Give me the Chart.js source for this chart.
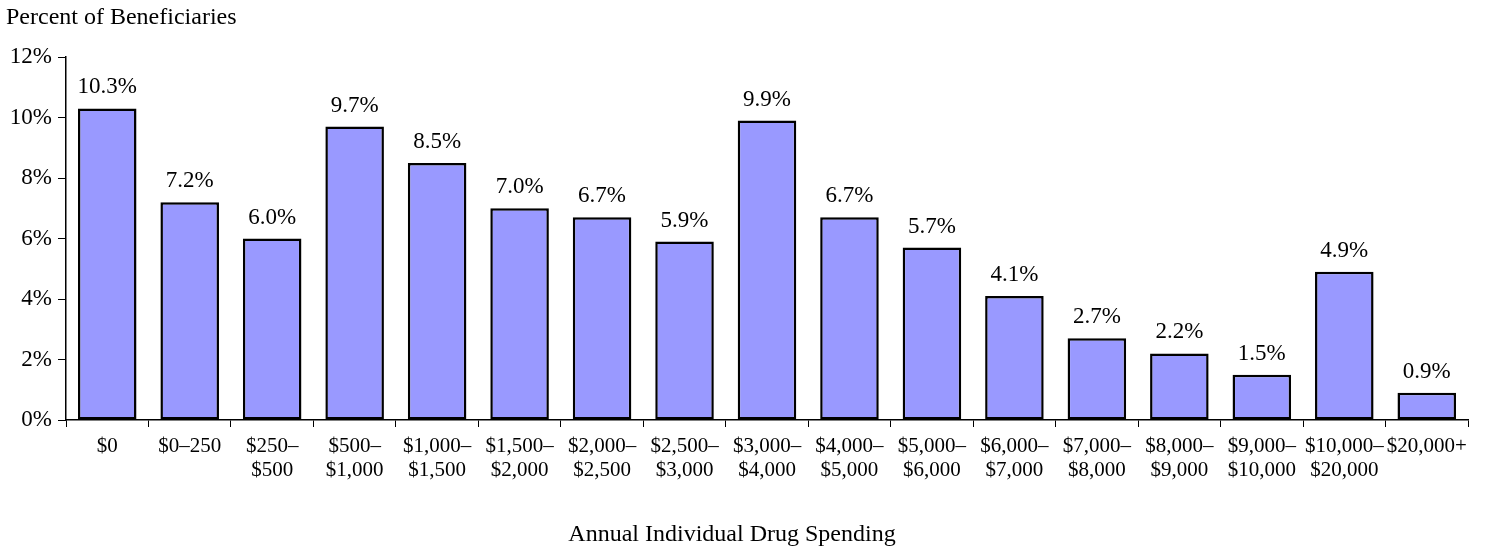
<!DOCTYPE html>
<html>
<head>
<meta charset="utf-8">
<script src="https://cdn.jsdelivr.net/npm/chart.js@4/dist/chart.umd.min.js"></script>
<style>
  html, body { margin: 0; padding: 0; background: #fff; }
  #wrap { width: 1489px; height: 550px; position: relative; }
</style>
</head>
<body>
<div id="wrap"><canvas id="chart"></canvas></div>
<script>
const categories = [
    '$0', '$0–250', ['$250–', '$500'], ['$500–', '$1,000'], ['$1,000–', '$1,500'],
    ['$1,500–', '$2,000'], ['$2,000–', '$2,500'], ['$2,500–', '$3,000'], ['$3,000–', '$4,000'],
    ['$4,000–', '$5,000'], ['$5,000–', '$6,000'], ['$6,000–', '$7,000'], ['$7,000–', '$8,000'],
    ['$8,000–', '$9,000'], ['$9,000–', '$10,000'], ['$10,000–', '$20,000'], '$20,000+'
];
const percentValues = [10.3, 7.2, 6.0, 9.7, 8.5, 7.0, 6.7, 5.9, 9.9, 6.7, 5.7, 4.1, 2.7, 2.2, 1.5, 4.9, 0.9];
const yTicks = [0, 2, 4, 6, 8, 10, 12];
const yTitle = 'Percent of Beneficiaries';
const xTitle = 'Annual Individual Drug Spending';

const serif = '"Liberation Serif", "Times New Roman", serif';

// value labels above bars + the two titles
const labelsPlugin = {
    id: 'labels',
    afterDatasetsDraw(chart) {
        const ctx = chart.ctx;
        ctx.save();
        ctx.fillStyle = '#000';
        ctx.font = '23px ' + serif;
        ctx.textAlign = 'center';
        ctx.textBaseline = 'alphabetic';
        chart.getDatasetMeta(0).data.forEach((bar, i) => {
            ctx.fillText(percentValues[i].toFixed(1) + '%', bar.x, bar.y - 15);
        });
        ctx.font = '24px ' + serif;
        ctx.textAlign = 'left';
        ctx.fillText(yTitle, 6, 24);
        ctx.textAlign = 'center';
        ctx.fillText(xTitle, 732, 541);
        ctx.restore();
    }
};

new Chart(document.getElementById('chart'), {
    type: 'bar',
    data: {
        labels: categories,
        datasets: [{
            data: percentValues,
            backgroundColor: '#9999FF',
            borderColor: '#000',
            borderWidth: 2.5,
            borderSkipped: false,
            barPercentage: 0.71,
            categoryPercentage: 1
        }]
    },
    options: {
        responsive: true,
        maintainAspectRatio: false,
        animation: false,
        layout: { padding: { top: 57, right: 21, bottom: 0, left: 0 } },
        plugins: {
            legend: { display: false },
            tooltip: { enabled: false }
        },
        scales: {
            x: {
                grid: { drawOnChartArea: false, tickLength: 7, color: '#000' },
                border: { color: '#000', width: 1.5 },
                ticks: {
                    color: '#000',
                    font: { family: serif, size: 21, lineHeight: 1.12 },
                    maxRotation: 0,
                    autoSkip: false,
                    padding: 8
                },
                afterFit: (s) => { s.height = 130; }
            },
            y: {
                min: 0,
                max: 12,
                afterBuildTicks: (s) => { s.ticks = yTicks.map(v => ({ value: v })); },
                grid: { drawOnChartArea: false, tickLength: 8, color: '#000' },
                border: { color: '#000', width: 1.5 },
                ticks: {
                    color: '#000',
                    font: { family: serif, size: 23 },
                    padding: 6,
                    callback: (v) => v + '%'
                },
                afterFit: (s) => { s.width = 66; }
            }
        }
    },
    plugins: [labelsPlugin]
});
</script>
</body>
</html>
